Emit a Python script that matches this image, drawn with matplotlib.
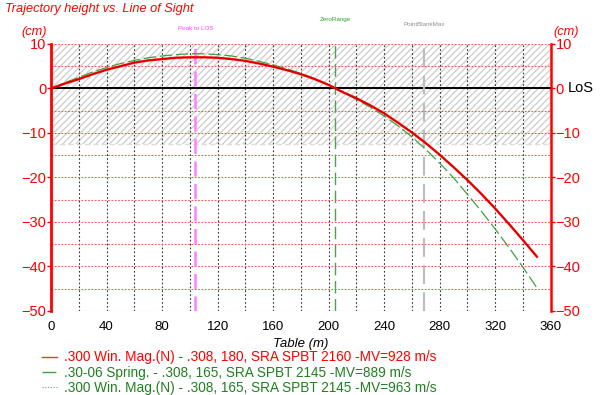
import matplotlib
matplotlib.use('Agg')
import matplotlib.pyplot as plt
from matplotlib.lines import Line2D

plt.rcParams['font.family'] = ['Liberation Sans', 'DejaVu Sans']

# range (m)
rng = list(range(0, 351, 10))
# trajectory height vs. line of sight (cm)
win300_180 = [0, 1.1, 2.1, 3.2, 4.2, 5.0, 5.8, 6.3, 6.6, 6.9, 7.0, 7.0, 6.9, 6.6, 6.2, 5.6, 4.9,
              4.1, 3.2, 2.1, 0.8, -0.8, -2.2, -3.8, -5.6, -7.7, -9.9, -12.3, -14.9, -17.7, -20.6,
              -23.7, -27.0, -30.5, -34.1, -37.8]
sprg3006_165 = [0, 1.3, 2.5, 3.7, 4.7, 5.6, 6.3, 6.9, 7.3, 7.6, 7.8, 7.8, 7.6, 7.3, 6.8, 6.1, 5.3,
                4.4, 3.4, 2.2, 0.8, -0.8, -2.5, -4.2, -6.2, -8.4, -10.9, -13.7, -16.8, -20.1, -23.8,
                -27.6, -31.6, -35.8, -40.2, -44.8]
win300_165 = [0, 1.1, 2.1, 3.2, 4.2, 5.0, 5.8, 6.3, 6.6, 6.9, 7.0, 7.0, 6.9, 6.6, 6.2, 5.6, 4.9,
              4.1, 3.2, 2.1, 0.8, -0.8, -2.2, -3.8, -5.6, -7.7, -9.9, -12.3, -14.9, -17.7, -20.6,
              -23.7, -27.0, -30.5, -34.1, -37.8]

labels = ['.300 Win. Mag.(N) - .308, 180, SRA SPBT 2160 -MV=928 m/s',
          '.30-06 Spring. - .308, 165, SRA SPBT 2145 -MV=889 m/s',
          '.300 Win. Mag.(N) - .308, 165, SRA SPBT 2145 -MV=963 m/s']

peak_los = 104
zero_range = 204.5
pb_max = 268.5
pb_band = (-12.5, 10)

fig = plt.figure(figsize=(6, 3.95), dpi=100)
ax = fig.add_axes([0.085, 0.2127, 0.833, 0.676])

ax.set_xlim(0, 360)
ax.set_ylim(-50, 10)

# point blank band
ax.fill_between([0, 360], pb_band[0], pb_band[1], facecolor='none', edgecolor='#d0d0d0',
                hatch='/////', linewidth=0, zorder=0)
ax.axhline(pb_band[0], color='#dddddd', lw=1, ls=(0, (4, 2)), zorder=0.5)

# grid
for x in range(20, 360, 20):
    ax.axvline(x, color='#333333', lw=0.8, ls=(0, (1.5, 2)), zorder=1)
for y in range(-50, 11, 5):
    ax.axhline(y, color='#ff5050', lw=0.8, ls=(0, (1.5, 1.5)), zorder=1)
ax.axhline(0, color='black', lw=1.4, zorder=2)

# markers
ax.axvline(peak_los, color='#ff80ff', lw=1.8, ls=(0, (6, 3)), zorder=2)
ax.axvline(zero_range, color='#50a050', lw=1.0, ls=(0, (9, 4)), zorder=2)
ax.axvline(pb_max, color='#bbbbbb', lw=1.5, ls=(0, (9, 4)), zorder=2)
ax.text(peak_los, 13.4, 'Peak to LOS', color='#ff40ff', fontsize=4.5, ha='center', va='center')
ax.text(zero_range, 15.6, 'ZeroRange', color='#30a030', fontsize=4.5, ha='center', va='center')
ax.text(pb_max, 14.4, 'PointBlankMax', color='#909090', fontsize=4.5, ha='center', va='center')

l1, = ax.plot(rng, win300_180, color='#ff0000', lw=1.7, zorder=4)
l2, = ax.plot(rng, sprg3006_165, color='#40a040', lw=0.9, ls=(0, (10, 3)), zorder=3)
l3, = ax.plot(rng, win300_165, color='#900000', lw=0.6, ls=(0, (1, 1)), zorder=5)

ax.set_xticks(range(0, 361, 40))
ax.set_yticks(range(-50, 11, 10))
ax.tick_params(axis='x', length=0, labelsize=9.5, pad=7)
ax.tick_params(axis='y', colors='#ff0000', labelcolor='#ff0000', labelsize=10.5,
               length=3, width=1, pad=0.5, left=True, right=True, labelright=True)

for s in ['top', 'bottom']:
    ax.spines[s].set_visible(False)
ax.spines['left'].set_color('#ff0000')
ax.spines['left'].set_linewidth(2)
ax.spines['right'].set_color('#ff0000')
ax.spines['right'].set_linewidth(1.8)

ax.text(372.5, 0, 'LoS', color='black', fontsize=10.5, va='center', ha='left')

ax.set_xlabel('Table (m)', style='italic', fontsize=9.5, labelpad=4)

fig.text(0.008, 0.977, 'Trajectory height vs. Line of Sight', color='#ff0000', style='italic',
         fontsize=9.2, va='center', ha='left')
fig.text(0.078, 0.903, '(cm)', color='#ff0000', style='italic', fontsize=9.2, ha='right', va='bottom')
fig.text(0.922, 0.903, '(cm)', color='#ff0000', style='italic', fontsize=9.2, ha='left', va='bottom')

handles = [Line2D([], [], color='#ff3030', lw=1),
           Line2D([], [], color='#40a040', lw=1, ls=(0, (10, 3))),
           Line2D([], [], color='#60a060', lw=0.8, ls=(0, (1, 1.5)))]
leg = fig.legend(handles=handles, labels=labels, loc='upper left', bbox_to_anchor=(0.07, 0.113),
                 frameon=False, fontsize=9.8, handlelength=1.1, handletextpad=0.55,
                 labelspacing=0.1, borderaxespad=0, borderpad=0)
for t, c in zip(leg.get_texts(), ['#ff0000', '#208020', '#208020']):
    t.set_color(c)

fig.savefig('out.png', dpi=100)
